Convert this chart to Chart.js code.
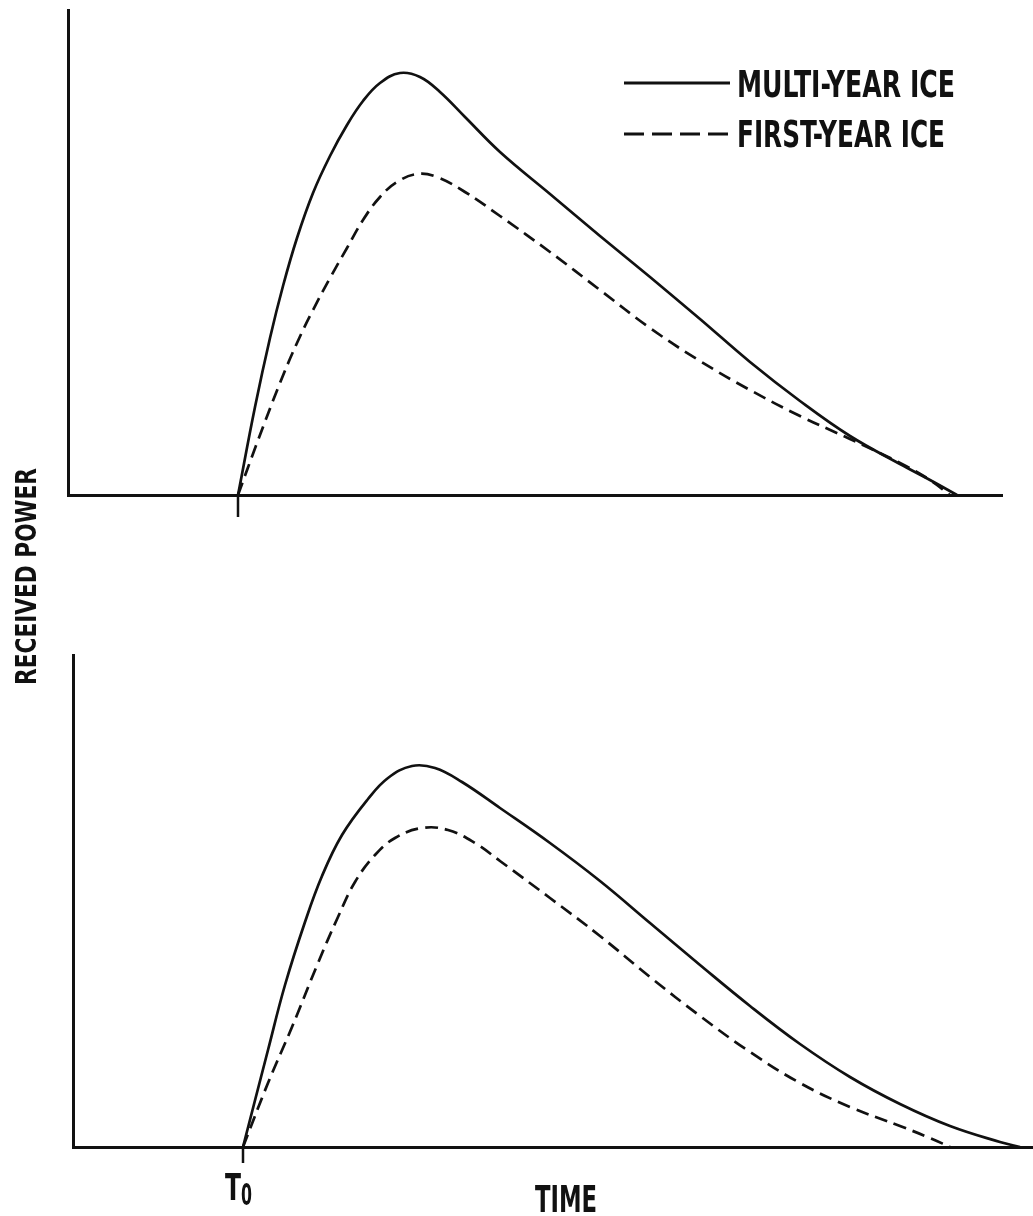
<!DOCTYPE html>
<html>
<head>
<meta charset="utf-8">
<script src="https://cdn.jsdelivr.net/npm/chart.js@4.4.1/dist/chart.umd.min.js"></script>
<style>
  html, body { margin: 0; padding: 0; background: #ffffff; }
  body { width: 1033px; height: 1216px; position: relative; overflow: hidden; }
  .box { position: absolute; left: 0; width: 1033px; }
  #topBox { top: 0; height: 720px; }
  #botBox { top: 600px; height: 616px; }
</style>
</head>
<body>
<div class="box" id="topBox"><canvas id="topChart"></canvas></div>
<div class="box" id="botBox"><canvas id="botChart"></canvas></div>
<script>
// ---- Data (time in arbitrary units after T0, received power in arbitrary units) ----
const legendLabels = ["MULTI-YEAR ICE", "FIRST-YEAR ICE"];
const xAxisTitle = "TIME";
const yAxisTitle = "RECEIVED POWER";
const t0Label = ["T", "0"];

// Top panel
const topMultiTime  = [0, 1.7, 3.2, 4.5, 5.9, 7.5, 9.2, 10.9, 12.5, 14.2, 16.2, 18.2, 20.2, 22.7, 26.2, 31.2, 36.2, 41.2, 46.2, 51.2, 56.2, 61.2, 66.2, 69.2, 71.9];
const topMultiPower = [0, 17.6, 31.4, 41.8, 51.4, 60.4, 67.8, 74, 78.8, 82.4, 84.4, 83.6, 80.6, 75.6, 68.6, 60.2, 51.8, 43.6, 35.2, 26.6, 18.8, 11.8, 6.2, 3, 0];
const topFirstTime  = [0, 1.9, 4.2, 5.9, 7.5, 9.2, 10.9, 12.5, 14.2, 15.9, 17.9, 19.9, 22.7, 26.2, 31.2, 36.2, 41.2, 46.2, 51.2, 56.2, 61.2, 66.2, 69.2, 71.2];
const topFirstPower = [0, 10.4, 22.4, 30.4, 37, 43.4, 49.4, 55, 59.6, 62.6, 64.2, 63.6, 60.6, 55.8, 48.6, 41, 33.4, 26.8, 21, 15.8, 11.2, 6.4, 3, 0];

// Bottom panel
const botMultiTime  = [0, 2.5, 4.2, 6.2, 7.9, 9.9, 12.5, 14.5, 16.9, 19.2, 21.9, 25.7, 30.7, 35.7, 40.7, 45.7, 50.7, 55.7, 60.7, 65.7, 70.7, 75.7, 77.7];
const botMultiPower = [0, 19.4, 32.4, 45, 54.2, 62.4, 69.6, 73.8, 76.2, 75.8, 73, 67.8, 60.8, 53.2, 44.8, 36.4, 28.2, 20.6, 14, 8.6, 4.2, 1, 0];
const botFirstTime  = [0, 2.5, 4.9, 7.5, 9.5, 11.2, 13.2, 15.2, 17.9, 20.5, 23.2, 25.7, 30.7, 35.7, 40.7, 45.7, 50.7, 55.7, 60.7, 65.7, 68.7, 70.7];
const botFirstPower = [0, 12.8, 24, 36.8, 46, 53, 58.4, 61.8, 63.8, 63.4, 60.8, 57.2, 49.8, 42.2, 34, 26.2, 19, 12.8, 8, 4.2, 1.8, 0];

// ---- helpers ----
const INK = "#111111";
const FONT_FAMILY = "'Liberation Sans Narrow', 'DejaVu Sans Condensed', 'Roboto', sans-serif";
function pts(xs, ys) { return xs.map((x, i) => ({ x: x, y: ys[i] })); }

function drawFit(ctx, text, x, baseline, targetWidth, size, weight) {
  ctx.save();
  ctx.font = (weight || "bold") + " " + size + "px " + FONT_FAMILY;
  const w = ctx.measureText(text).width;
  ctx.translate(x, baseline);
  ctx.scale(targetWidth / w, 1);
  ctx.fillStyle = INK;
  ctx.textBaseline = "alphabetic";
  ctx.textAlign = "left";
  ctx.fillText(text, 0, 0);
  ctx.restore();
}

function makeDatasets(mt, mp, ft, fp) {
  return [
    { label: legendLabels[0], data: pts(mt, mp), borderColor: INK, borderWidth: 2.7,
      pointRadius: 0, fill: false, tension: 0.4 },
    { label: legendLabels[1], data: pts(ft, fp), borderColor: INK, borderWidth: 2.7,
      borderDash: [13, 7], pointRadius: 0, fill: false, tension: 0.4 }
  ];
}

function makeScales(xmin, xmax, ymax) {
  return {
    x: { type: "linear", min: xmin, max: xmax,
         grid: { display: false, drawTicks: false },
         ticks: { display: false },
         border: { display: true, color: INK, width: 3 } },
    y: { type: "linear", min: 0, max: ymax,
         grid: { display: false, drawTicks: false },
         ticks: { display: false },
         border: { display: true, color: INK, width: 3 } }
  };
}

const topDecor = {
  id: "topDecor",
  afterDraw(chart) {
    const ctx = chart.ctx, a = chart.chartArea;
    const x0 = chart.scales.x.getPixelForValue(0);
    ctx.save();
    ctx.strokeStyle = INK;
    ctx.lineWidth = 2.5;
    ctx.beginPath(); ctx.moveTo(x0, a.bottom); ctx.lineTo(x0, a.bottom + 22); ctx.stroke();
    // legend
    ctx.lineWidth = 3;
    ctx.beginPath(); ctx.moveTo(624, 83); ctx.lineTo(730, 83); ctx.stroke();
    ctx.setLineDash([20, 8]);
    ctx.beginPath(); ctx.moveTo(624, 134); ctx.lineTo(728, 134); ctx.stroke();
    ctx.setLineDash([]);
    ctx.restore();
    drawFit(ctx, legendLabels[0], 737, 97, 218, 37);
    drawFit(ctx, legendLabels[1], 737, 147, 208, 37);
    // y axis title (rotated), spans both panels
    ctx.save();
    ctx.translate(36, 685);
    ctx.rotate(-Math.PI / 2);
    drawFit(ctx, yAxisTitle, 0, 0, 217, 28);
    ctx.restore();
  }
};

const botDecor = {
  id: "botDecor",
  afterDraw(chart) {
    const ctx = chart.ctx, a = chart.chartArea;
    const x0 = chart.scales.x.getPixelForValue(0);
    ctx.save();
    ctx.strokeStyle = INK;
    ctx.lineWidth = 2.5;
    ctx.beginPath(); ctx.moveTo(x0, a.bottom); ctx.lineTo(x0, a.bottom + 16); ctx.stroke();
    ctx.restore();
    drawFit(ctx, t0Label[0], x0 - 18, 600, 16, 38, "600");
    drawFit(ctx, t0Label[1], x0 - 2, 605, 11, 30, "600");
    drawFit(ctx, xAxisTitle, 535, 612, 62, 38);
  }
};

Chart.defaults.animation = false;
Chart.defaults.responsive = true;
Chart.defaults.maintainAspectRatio = false;

new Chart(document.getElementById("topChart"), {
  type: "line",
  data: { datasets: makeDatasets(topMultiTime, topMultiPower, topFirstTime, topFirstPower) },
  options: {
    layout: { padding: { left: 68, top: 10, right: 31, bottom: 225 } },
    scales: makeScales(-17, 76.4, 97),
    plugins: { legend: { display: false }, tooltip: { enabled: false } },
    elements: { line: { borderCapStyle: "butt" } }
  },
  plugins: [topDecor]
});

new Chart(document.getElementById("botChart"), {
  type: "line",
  data: { datasets: makeDatasets(botMultiTime, botMultiPower, botFirstTime, botFirstPower) },
  options: {
    layout: { padding: { left: 73, top: 55, right: 0, bottom: 69 } },
    scales: makeScales(-17, 79, 98.4),
    plugins: { legend: { display: false }, tooltip: { enabled: false } },
    elements: { line: { borderCapStyle: "butt" } }
  },
  plugins: [botDecor]
});
</script>
</body>
</html>
